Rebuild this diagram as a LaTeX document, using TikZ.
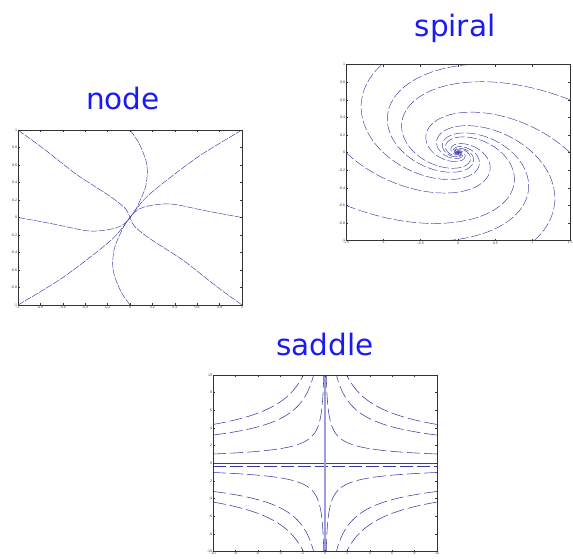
\documentclass[tikz,border=0pt]{standalone}
\usepackage{fontspec}
\setmainfont{Liberation Sans}
\newfontfamily\titlefont{DejaVu Sans}
\usetikzlibrary{positioning}
\definecolor{phTitle}{HTML}{1A1AF5}
\definecolor{phLine} {HTML}{3A3AA6}
\definecolor{phAxis} {HTML}{9C9CE2}

\begin{document}
\begin{tikzpicture}[x=1pt,y=1pt,
      title/.style={font=\titlefont\fontsize{29.5}{30}\selectfont,text=phTitle,
                    anchor=base,inner sep=0pt},
      ticklab/.style={font=\fontsize{3.6}{4}\selectfont,text=black!75,inner sep=0.7pt},
      frame/.style={draw=black!80,line width=0.5pt},
      traj/.style={draw=phLine,line width=0.45pt,dash pattern=on 9pt off 2pt}]

  \useasboundingbox (0,0) rectangle (573,558);

  \node[title] (tnode)   at (123,448) {node};
  \node[title] (tspiral) at (455,521) {spiral};
  \node[title] (tsaddle) at (325,203) {saddle};

  % node portrait
  \begin{scope}[shift={(130,340.5)},x=112pt,y=87.5pt]
    \begin{scope}
      \clip (-1,-1) rectangle (1,1);
      \foreach \s in {1,-1}{
        \begin{scope}[scale=\s]
          \draw[traj,dash pattern=on 7pt off 1.2pt] plot[smooth] coordinates
            {(-1,1) (-0.775,0.79) (-0.475,0.49) (-0.175,0.24) (-0.04,0.1) (0,0)};
          \draw[traj,dash pattern=on 7pt off 1.2pt] plot[smooth] coordinates
            {(0,1) (0.08,0.85) (0.14,0.66) (0.155,0.53) (0.14,0.356) (0.094,0.205)
             (0.05,0.09) (0,0)};
          \draw[traj,dash pattern=on 7pt off 1.2pt] plot[smooth] coordinates
            {(1,1) (0.634,0.716) (0.334,0.432) (0.154,0.242) (0.064,0.11) (0,0)};
          \draw[traj,dash pattern=on 7pt off 1.2pt] plot[smooth] coordinates
            {(1,0) (0.694,0.072) (0.424,0.144) (0.304,0.155) (0.154,0.129)
             (0.064,0.083) (0,0)};
        \end{scope}}
    \end{scope}
    \draw[frame] (-1,-1) rectangle (1,1);
    \foreach \v [count=\i] in {-1,-0.8,-0.6,-0.4,-0.2,0,0.2,0.4,0.6,0.8,1}{
      \draw[frame] (\v,-1) -- ++(0,2pt) (\v,1) -- ++(0,-2pt)
                   (-1,\v) -- ++(2pt,0) (1,\v) -- ++(-2pt,0);
      \node[ticklab,anchor=north] (nx\i) at (\v,-1) {\v};
      \node[ticklab,anchor=east]  (ny\i) at (-1,\v) {\v};
    }
  \end{scope}

  % spiral portrait
  \begin{scope}[shift={(458,405.4)},x=112pt,y=88pt]
    \begin{scope}
      \clip (-1,-1) rectangle (1,1);
      \foreach \s in {1,-1}{
        \begin{scope}[scale=\s]
          \foreach \pu/\pv in {-0.68/1,0.44/1,1/0.6,1/0}{
            \draw[traj,dash pattern=on 10pt off 2.5pt]
              plot[domain=0:13,samples=360,variable=\t]
              ({exp(-0.48*\t)*((\pu)*cos(\t r)+(-0.2525*(\pu)-1.2168*(\pv))*sin(\t r))},
               {exp(-0.48*\t)*((\pv)*cos(\t r)+(0.874*(\pu)+0.2525*(\pv))*sin(\t r))});
          }
        \end{scope}}
    \end{scope}
    \draw[frame] (-1,-1) rectangle (1,1);
    \foreach \u/\lab [count=\i] in {-1/-1.5,-0.6667/-1,-0.3333/-0.5,0/0,
                                     0.3333/0.5,0.6667/1,1/1.5}{
      \draw[frame] (\u,-1) -- ++(0,2pt) (\u,1) -- ++(0,-2pt);
      \node[ticklab,anchor=north] (sx\i) at (\u,-1) {\lab};
    }
    \foreach \v [count=\i] in {-1,-0.8,-0.6,-0.4,-0.2,0,0.2,0.4,0.6,0.8,1}{
      \draw[frame] (-1,\v) -- ++(2pt,0) (1,\v) -- ++(-2pt,0);
      \node[ticklab,anchor=east] (sy\i) at (-1,\v) {\v};
    }
  \end{scope}

  % saddle portrait
  \begin{scope}[shift={(325,94.75)},x=11.2pt,y=8.825pt]
    \draw[phLine,line width=0.6pt] (-10,0) -- (10,0);
    \draw[traj,dash pattern=on 13pt off 4pt] (-10,-0.3) -- (10,-0.3);
    \draw[phAxis,line width=1.6pt] (0,-10) -- (0,10);
    \foreach \c in {13.9,10.1,3.3}{
      \pgfmathsetmacro\ylow{\c/sqrt(10)}
      \foreach \sx in {1,-1}{
        \foreach \sy in {1,-1}{
          \draw[traj,dash pattern=on 13pt off 4pt,line width=0.55pt,
                xscale=\sx,yscale=\sy]
            plot[domain=\ylow:10,samples=70,variable=\y] ({(\c/\y)^2},\y);
        }}}
    \draw[frame] (-10,-10) rectangle (10,10);
    \foreach \v [count=\i] in {-10,-8,-6,-4,-2,0,2,4,6,8,10}{
      \draw[frame] (\v,-10) -- ++(0,2pt) (\v,10) -- ++(0,-2pt)
                   (-10,\v) -- ++(2pt,0) (10,\v) -- ++(-2pt,0);
      \node[ticklab,anchor=north] (dx\i) at (\v,-10) {\v};
      \node[ticklab,anchor=east]  (dy\i) at (-10,\v) {\v};
    }
  \end{scope}
\end{tikzpicture}
\end{document}
